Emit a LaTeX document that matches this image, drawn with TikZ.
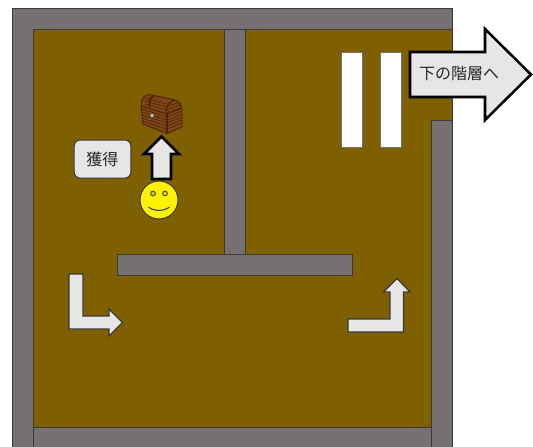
\documentclass[tikz,border=0pt]{standalone}
\usepackage{fontspec}
\setmainfont{Noto Sans CJK JP}
\definecolor{floorc}{HTML}{7F6000}
\definecolor{wallc}{HTML}{767171}
\definecolor{edgec}{HTML}{3A3838}
\definecolor{arrowc}{HTML}{E7E6E6}
\definecolor{chestc}{HTML}{804515}
\definecolor{chestd}{HTML}{4A2408}
\tikzset{
  floorshape/.style={fill=floorc,draw=edgec,line width=0.75pt},
  wallshape/.style={fill=wallc,draw=edgec,line width=0.75pt},
  slab/.style={fill=white,draw=edgec!70,line width=0.6pt},
  thickarrow/.style={fill=arrowc,draw=black,line width=1.9pt,miter limit=10},
  thinarrow/.style={fill=arrowc,draw=edgec,line width=0.9pt},
  label/.style={font=\fontsize{12pt}{14pt}\selectfont,text=black!85,inner sep=0pt},
}
\begin{document}
\begin{tikzpicture}[x=0.75pt,y=-0.75pt]
\useasboundingbox (0,0) rectangle (533,447);
% walls and floor
\fill[wallc] (12,8) rectangle (452,447);
\draw[wallshape] (12,447) -- (12,8) -- (452,8) -- (452,447);
\draw[floorshape] (33,29) rectangle (452,427);
\draw[wallshape] (452,447) -- (452,120) -- (431,120) -- (431,447);
\draw[wallshape] (33,447) -- (33,427) -- (431,427) -- (431,447);
\draw[wallshape] (224,29) rectangle (245,254);
\draw[wallshape] (117,254) rectangle (352,275);
% slabs
\draw[slab] (341,52) rectangle (362,147);
\draw[slab] (380,52) rectangle (401,147);
% exit arrow
\draw[thickarrow] (410,52) -- (485,52) -- (485,29) -- (531,74.5) -- (485,120) -- (485,97) -- (410,97) -- cycle;
\node[label] (exit) at (459,74) {下の階層へ};
% floor arrows
\draw[thinarrow] (69,274) -- (83,274) -- (83,316) -- (109,316) -- (109,309) -- (122.5,322.5) -- (109,336) -- (109,329) -- (69,329) -- cycle;
\draw[thinarrow] (348,319) -- (390,319) -- (390,292) -- (383.5,292) -- (397,278.5) -- (410,292) -- (403.5,292) -- (403.5,332) -- (348,332) -- cycle;
% up arrow
\draw[thickarrow] (152,179) -- (152,154) -- (144,154) -- (161.5,136.5) -- (179,154) -- (171,154) -- (171,179) -- cycle;
% button
\node[fill=arrowc,draw=edgec,line width=0.75pt,rounded corners=4.5pt,minimum width=42.5pt,minimum height=28.5pt,label] (get) at (102.5,159) {獲得};
% smiley
\node[circle,fill=yellow,draw=edgec,line width=0.75pt,minimum size=28.5pt,inner sep=0pt] (face) at (159,200) {};
\draw[edgec,fill=yellow!80!black,line width=0.6pt] (153,193.5) circle (2.4);
\draw[edgec,fill=yellow!80!black,line width=0.6pt] (165,193.5) circle (2.4);
\draw[edgec,line width=0.8pt] (148.5,207) .. controls (154,211.5) and (164,211.5) .. (169.5,207);
% treasure chest
\fill[chestc,draw=chestd,line width=0.7pt] (141,106) -- (142,100) .. controls (144,95) and (148,94) .. (152,95) -- (175,100) .. controls (180,102) and (182,106) .. (182,110) -- (182,127) -- (167,133.5) -- (143,124) -- cycle;
\draw[chestd,line width=0.8pt] (141,106) -- (167,114) -- (182,108);
\draw[chestd,line width=0.8pt] (167,114) -- (167,133.5);
\draw[chestd,line width=0.9pt] (167,114) .. controls (165,108) and (168,102) .. (175,100);
\draw[chestd,line width=1.4pt] (150,107) .. controls (148,103) and (150,98) .. (154,95.5);
\foreach \d in {3,6,9,12,15}{
  \draw[chestd,line width=0.45pt] (142,106+\d) -- (167,114+\d);
  \draw[chestd,line width=0.45pt] (167,114+\d) -- (182,108+\d);
}
\foreach \d in {3,6,9}{
  \draw[chestd,line width=0.45pt] (145,95+\d) -- (167,101+\d);
  \draw[chestd,line width=0.45pt] (168,103+\d) -- (181,99+\d);
}
\fill[gray!45,draw=black!70,line width=0.4pt] (152,115.5) circle (2);
\end{tikzpicture}
\end{document}
